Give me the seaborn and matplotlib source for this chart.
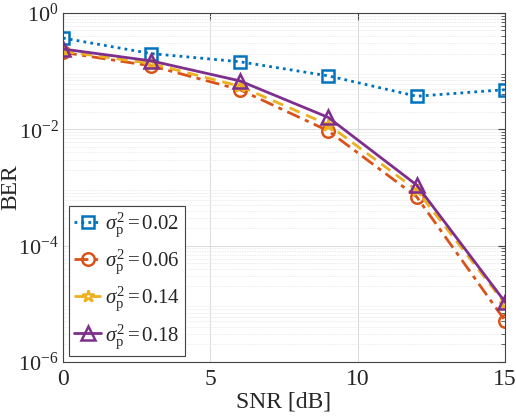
import numpy as np
import pandas as pd
import matplotlib
matplotlib.use("Agg")
import matplotlib.pyplot as plt
import seaborn as sns

snr = [0, 3, 6, 9, 12, 15]
ber_002 = [0.37, 0.20, 0.145, 0.083, 0.037, 0.048]
ber_006 = [0.21, 0.123, 0.048, 0.0094, 0.00069, 5.1e-6]
ber_014 = [0.22, 0.135, 0.055, 0.012, 0.0009, 1.0e-5]
ber_018 = [0.24, 0.15, 0.068, 0.016, 0.0011, 1.07e-5]
labels = [r"$\sigma_{\rm p}^2 = 0.02$", r"$\sigma_{\rm p}^2 = 0.06$",
          r"$\sigma_{\rm p}^2 = 0.14$", r"$\sigma_{\rm p}^2 = 0.18$"]

sns.set_style("white")
plt.rcParams['font.family'] = ['Liberation Serif', 'DejaVu Serif']
plt.rcParams['mathtext.fontset'] = 'custom'
plt.rcParams['mathtext.rm'] = 'Liberation Serif'
plt.rcParams['mathtext.it'] = 'Liberation Serif:italic'

fig = plt.figure(figsize=(5.16, 4.18), dpi=100)
ax = fig.add_axes([0.122, 0.134, 0.857, 0.835])

colors = ["#0072BD", "#D95319", "#EDB120", "#7E2F8E"]
markers = ["s", "o", "*", "^"]
styles = [(0, (1, 1.5)), (0, (5, 2, 1.5, 2)), (0, (4, 2.5)), "-"]
msizes = [8, 9, 9, 10]
series = [ber_002, ber_006, ber_014, ber_018]

for s, lab, c, m, ls, ms in zip(series, labels, colors, markers, styles, msizes):
    df = pd.DataFrame({"SNR": snr, "BER": s})
    sns.lineplot(data=df, x="SNR", y="BER", ax=ax, color=c, marker=m,
                 linestyle=ls, linewidth=2, markersize=ms,
                 markerfacecolor="none", markeredgecolor=c, markeredgewidth=1.8,
                 label=lab)

ax.set_yscale("log")
ax.set_xlim(0, 15)
ax.set_ylim(1e-6, 1)
ax.set_xticks([0, 5, 10, 15])
ax.set_yticks([1e-6, 1e-4, 1e-2, 1e0])
ax.set_yticklabels([r"$10^{-6}$", r"$10^{-4}$", r"$10^{-2}$", r"$10^{0}$"])
ax.yaxis.set_minor_locator(matplotlib.ticker.LogLocator(base=10, subs=np.arange(2, 10), numticks=20))
ax.yaxis.set_minor_formatter(matplotlib.ticker.NullFormatter())
ax.grid(True, which="major", color="#dddddd", linewidth=0.8)
ax.grid(True, which="minor", axis="y", color="#e6e6e6", linewidth=0.6, linestyle=(0, (1, 1)))
ax.tick_params(axis="both", which="both", direction="in", top=True, right=True,
               color="#444444")
ax.tick_params(axis="x", labelsize=17, pad=5)
ax.tick_params(axis="y", labelsize=16, pad=3)
ax.tick_params(which="major", length=5)
ax.tick_params(which="minor", length=3)
for sp in ax.spines.values():
    sp.set_color("#444444")
    sp.set_linewidth(0.8)
ax.set_xlabel("SNR [dB]", fontsize=17, labelpad=1)
ax.set_ylabel("BER", fontsize=17)
ax.yaxis.set_label_coords(-0.095, 0.5)

leg = ax.legend(loc="lower left", fontsize=15, handlelength=1.3, handletextpad=0.15,
                borderpad=0.25, labelspacing=0.4, borderaxespad=0.3,
                frameon=True, fancybox=False, edgecolor="#444444", framealpha=1)
leg.get_frame().set_linewidth(0.8)

fig.savefig("out.png", dpi=100)
